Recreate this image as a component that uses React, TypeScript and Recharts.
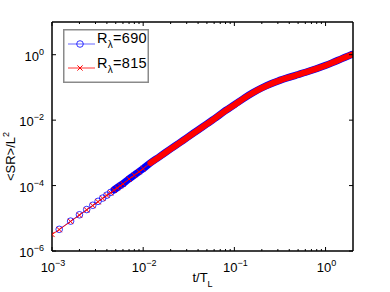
import React from 'react';
import { LineChart, Line, XAxis, YAxis, Legend } from 'recharts';

// t / T_L sample times
const tBlue = [0.0012, 0.0016, 0.002, 0.0024, 0.0028, 0.0032, 0.0036, 0.004, 0.0044, 0.0048, 0.0052, 0.0056, 0.006,
  0.007, 0.008, 0.009, 0.01, 0.012, 0.015, 0.02, 0.025, 0.03, 0.04, 0.05, 0.06, 0.08, 0.1, 0.13, 0.16, 0.2, 0.25, 0.3,
  0.4, 0.5, 0.6, 0.8, 1.0, 1.2, 1.5, 1.8, 1.95];
// <SR>/L^2 for R_lambda = 690
const srBlue = [4.6e-6, 8.2e-6, 1.28e-5, 1.85e-5, 2.5e-5, 3.3e-5, 4.15e-5, 5.1e-5, 6.2e-5, 7.4e-5, 8.7e-5, 1.0e-4, 1.14e-4,
  1.6e-4, 2.09e-4, 2.67e-4, 3.31e-4, 4.94e-4, 7.55e-4, 1.32e-3, 2.02e-3, 2.88e-3, 5.0e-3, 7.68e-3, 1.09e-2, 1.97e-2, 2.95e-2, 4.85e-2,
  6.93e-2, 9.68e-2, 0.1288, 0.1567, 0.2046, 0.2472, 0.2884, 0.3756, 0.4713, 0.578, 0.752, 0.928, 1.02];

const tRed = [0.001, 0.0012, 0.0016, 0.002, 0.0024, 0.0028, 0.0032, 0.0036, 0.004, 0.0044, 0.0048, 0.0052, 0.0056, 0.006,
  0.007, 0.008, 0.009, 0.01, 0.012, 0.015, 0.02, 0.025, 0.03, 0.04, 0.05, 0.06, 0.08, 0.1, 0.13, 0.16, 0.2, 0.25, 0.3,
  0.4, 0.5, 0.6, 0.8, 1.0, 1.2, 1.5, 1.8, 1.93];
// <SR>/L^2 for R_lambda = 815
const srRed = [3.2e-6, 4.5e-6, 8.0e-6, 1.25e-5, 1.8e-5, 2.45e-5, 3.2e-5, 4.05e-5, 5.0e-5, 6.0e-5, 7.2e-5, 8.4e-5, 9.8e-5, 1.12e-4,
  1.58e-4, 2.07e-4, 2.64e-4, 3.28e-4, 4.9e-4, 7.5e-4, 1.31e-3, 2.0e-3, 2.85e-3, 4.95e-3, 7.6e-3, 1.08e-2, 1.95e-2, 2.92e-2, 4.81e-2,
  6.87e-2, 9.6e-2, 0.1277, 0.1555, 0.2032, 0.2457, 0.2868, 0.3737, 0.4692, 0.5755, 0.7488, 0.9235, 1.0];

const xMajorTicks = [0.001, 0.01, 0.1, 1];
const xMajorExp = ['\u22123', '\u22122', '\u22121', '0'];
const xMinorTicks = [0.002, 0.003, 0.004, 0.005, 0.006, 0.007, 0.008, 0.009,
  0.02, 0.03, 0.04, 0.05, 0.06, 0.07, 0.08, 0.09,
  0.2, 0.3, 0.4, 0.5, 0.6, 0.7, 0.8, 0.9];
const yMajorTicks = [1e-6, 1e-4, 1e-2, 1];
const yMajorExp = ['\u22126', '\u22124', '\u22122', '0'];
const legendValues = ['690', '815'];

const blueData = tBlue.map((t, i) => ({ t, v: srBlue[i] }));
const redData = tRed.map((t, i) => ({ t, v: srRed[i] }));
const blueBand = blueData.filter((d) => d.t >= 0.0048);
const redBand = redData.filter((d) => d.t >= 0.012);
const allXTicks = [...xMajorTicks, ...xMinorTicks].sort((a, b) => a - b);

const FONT = '"Liberation Sans", Arial, Helvetica, sans-serif';
const BLUE = '#0000ff';
const RED = '#ff0000';

const expOf = (v: number, majors: number[], exps: string[]) => {
  const i = majors.findIndex((m) => Math.abs(m - v) / m < 1e-6);
  return i >= 0 ? exps[i] : null;
};

const BottomTick = (props: any) => {
  const { x, y, payload } = props;
  const e = expOf(payload.value, xMajorTicks, xMajorExp);
  const len = e !== null ? 4 : 2;
  return (
    <g>
      <line x1={x} y1={y} x2={x} y2={y - len} stroke="#000" strokeWidth={1} />
      {e !== null && (
        <text x={x + 1} y={y + 21} textAnchor="middle" fontFamily={FONT} fontSize={13} fill="#000">
          <tspan>10</tspan>
          <tspan dy={-6} fontSize={9}>{e}</tspan>
        </text>
      )}
    </g>
  );
};

const TopTick = (props: any) => {
  const { x, y, payload } = props;
  const e = expOf(payload.value, xMajorTicks, xMajorExp);
  const len = e !== null ? 4 : 2;
  return <line x1={x} y1={y} x2={x} y2={y + len} stroke="#000" strokeWidth={1} />;
};

const LeftTick = (props: any) => {
  const { x, y, payload } = props;
  const e = expOf(payload.value, yMajorTicks, yMajorExp);
  return (
    <g>
      <line x1={x} y1={y} x2={x + 4} y2={y} stroke="#000" strokeWidth={1} />
      <text x={x - 8} y={y + 6} textAnchor="end" fontFamily={FONT} fontSize={13} fill="#000">
        <tspan>10</tspan>
        <tspan dy={-6} fontSize={9}>{e}</tspan>
      </text>
    </g>
  );
};

const RightTick = (props: any) => {
  const { x, y } = props;
  return <line x1={x} y1={y} x2={x - 4} y2={y} stroke="#000" strokeWidth={1} />;
};

const XTitle = (props: any) => {
  const vb = props.viewBox || { x: 52, y: 251, width: 301, height: 41 };
  return (
    <text x={vb.x + vb.width / 2} y={vb.y + 31} textAnchor="middle" fontFamily={FONT} fontSize={13} fill="#000">
      <tspan>t/T</tspan>
      <tspan dy={5} fontSize={9}>L</tspan>
    </text>
  );
};

const YTitle = (props: any) => {
  const vb = props.viewBox || { x: 0, y: 22, width: 52, height: 229 };
  const cx = vb.x + 15;
  const cy = vb.y + vb.height / 2 + 20;
  return (
    <text x={cx} y={cy} transform={`rotate(-90 ${cx} ${cy})`} textAnchor="middle" fontFamily={FONT} fontSize={13} fill="#000">
      <tspan>{'<SR>/L'}</tspan>
      <tspan dy={-6} fontSize={9}>2</tspan>
    </text>
  );
};

const CircleDot = (props: any) => {
  const { cx, cy, index, payload } = props;
  if (cx == null || cy == null || payload.t > 0.0046) return <g key={`o-${index}`} />;
  return <circle key={`o-${index}`} cx={cx} cy={cy} r={3.3} stroke={BLUE} strokeWidth={0.8} fill="none" />;
};

const CrossDot = (props: any) => {
  const { cx, cy, index, payload } = props;
  if (cx == null || cy == null || payload.t > 0.011) return <g key={`x-${index}`} />;
  const s = 2.6;
  return (
    <path
      key={`x-${index}`}
      d={`M${cx - s},${cy - s}L${cx + s},${cy + s}M${cx - s},${cy + s}L${cx + s},${cy - s}`}
      stroke={RED}
      strokeWidth={1}
      fill="none"
    />
  );
};

const LegendBox = () => (
  <svg width={86} height={54} style={{ display: 'block' }}>
    <rect x={0.75} y={0.75} width={84.5} height={52.5} fill="#fff" stroke="#8a8a8a" strokeWidth={1.5} />
    <line x1={5} y1={15} x2={32} y2={15} stroke={BLUE} strokeWidth={0.6} />
    <circle cx={17} cy={15} r={3.3} stroke={BLUE} strokeWidth={0.8} fill="none" />
    <text x={34} y={14} fontFamily={FONT} fontSize={14.5} letterSpacing={0.3} fill="#000">
      <tspan>R</tspan>
      <tspan dy={5} fontSize={10}>{'\u03bb'}</tspan>
      <tspan dy={-5}>{`=${legendValues[0]}`}</tspan>
    </text>
    <line x1={5} y1={39} x2={32} y2={39} stroke={RED} strokeWidth={0.8} />
    <path d="M14.4,36.4L19.6,41.6M14.4,41.6L19.6,36.4" stroke={RED} strokeWidth={1} />
    <text x={34} y={38.5} fontFamily={FONT} fontSize={14.5} letterSpacing={0.3} fill="#000">
      <tspan>R</tspan>
      <tspan dy={5} fontSize={10}>{'\u03bb'}</tspan>
      <tspan dy={-5}>{`=${legendValues[1]}`}</tspan>
    </text>
  </svg>
);

export default function App() {
  return (
    <div style={{ position: 'absolute', left: 0, top: 0, width: 390, height: 292, background: '#fff' }}>
      <LineChart width={390} height={292} margin={{ top: 21, right: 36, bottom: 0, left: 0 }}>
        <XAxis
          dataKey="t"
          type="number"
          scale="log"
          domain={[0.001, 2]}
          allowDataOverflow
          ticks={allXTicks}
          interval={0}
          tickSize={0}
          tickMargin={0}
          tickLine={false}
          tick={<BottomTick />}
          height={41}
          axisLine={{ stroke: '#000', strokeWidth: 1.5 }}
          label={{ content: XTitle }}
        />
        <XAxis
          xAxisId="top"
          orientation="top"
          dataKey="t"
          type="number"
          scale="log"
          domain={[0.001, 2]}
          allowDataOverflow
          ticks={allXTicks}
          interval={0}
          tickSize={0}
          tickMargin={0}
          tickLine={false}
          tick={<TopTick />}
          height={1}
          axisLine={{ stroke: '#000', strokeWidth: 1.5 }}
        />
        <YAxis
          dataKey="v"
          type="number"
          scale="log"
          domain={[1e-6, 10]}
          allowDataOverflow
          ticks={yMajorTicks}
          interval={0}
          tickSize={0}
          tickMargin={0}
          tickLine={false}
          tick={<LeftTick />}
          width={52}
          axisLine={{ stroke: '#000', strokeWidth: 1.5 }}
          label={{ content: YTitle }}
        />
        <YAxis
          yAxisId="right"
          orientation="right"
          dataKey="v"
          type="number"
          scale="log"
          domain={[1e-6, 10]}
          allowDataOverflow
          ticks={yMajorTicks}
          interval={0}
          tickSize={0}
          tickMargin={0}
          tickLine={false}
          tick={<RightTick />}
          width={1}
          axisLine={{ stroke: '#000', strokeWidth: 1.5 }}
        />
        <Line type="monotone" data={blueBand} dataKey="v" stroke={BLUE} strokeWidth={7.2} strokeLinecap="round" strokeLinejoin="round" dot={false} isAnimationActive={false} legendType="none" />
        <Line type="monotone" data={blueData} dataKey="v" stroke={BLUE} strokeWidth={0.6} dot={<CircleDot />} isAnimationActive={false} />
        <Line type="monotone" data={redBand} dataKey="v" stroke={RED} strokeWidth={6} strokeLinecap="round" strokeLinejoin="round" dot={false} isAnimationActive={false} legendType="none" />
        <Line type="monotone" data={redData} dataKey="v" stroke={RED} strokeWidth={0.9} dot={<CrossDot />} isAnimationActive={false} />
        <Legend
          layout="vertical"
          align="center"
          verticalAlign="middle"
          content={() => <LegendBox />}
          wrapperStyle={{ position: 'absolute', left: 63, top: 29, width: 86, height: 54 }}
        />
      </LineChart>
    </div>
  );
}
